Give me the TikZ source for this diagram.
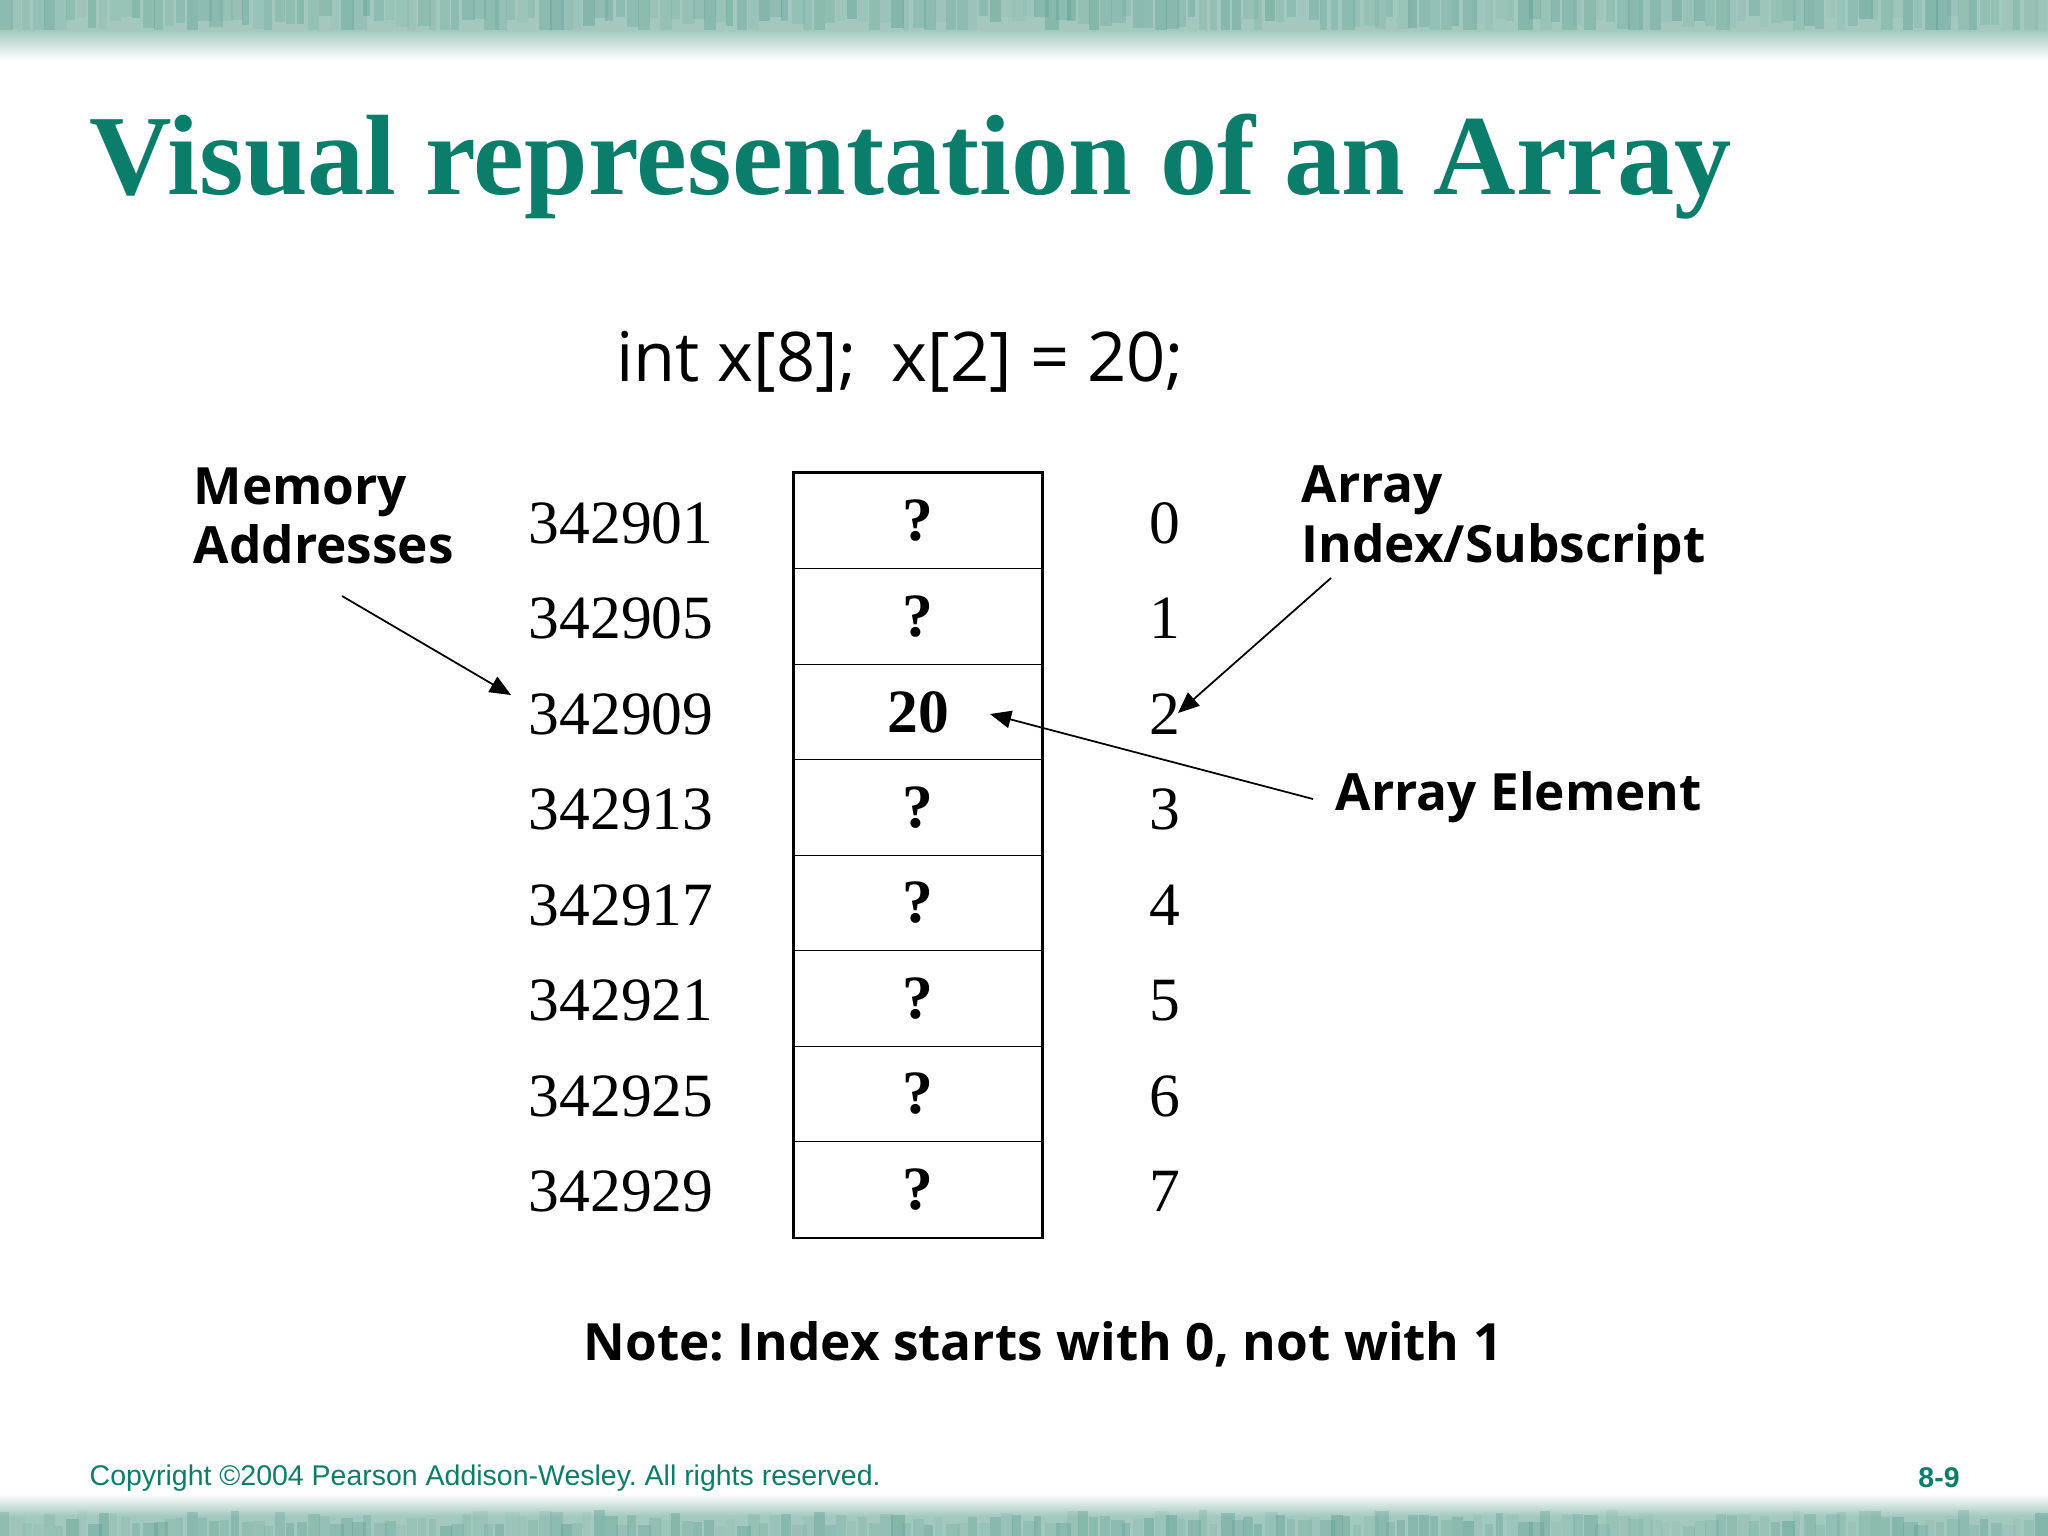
\documentclass[tikz,border=0pt]{standalone}
\usepackage{fontspec}
\setmainfont{Liberation Serif}
\newfontfamily\labelfont{Open Sans}
\newfontfamily\footfont{Liberation Sans}
\usepackage{tikz}
\usetikzlibrary{arrows.meta, positioning, calc}
\definecolor{slideteal}{HTML}{0B7D6B}
\definecolor{bandlight}{HTML}{A3C8BF}
\definecolor{banddark}{HTML}{4A9585}
\frenchspacing

\tikzset{
  cell/.style={draw, line width=0.4pt, minimum width=2.47cm, minimum height=0.955cm,
    inner sep=0pt, font=\fontsize{17.5}{17.5}\selectfont\bfseries},
  addrlabel/.style={anchor=west, inner sep=0pt, font=\fontsize{17.5}{17.5}\selectfont},
  idxlabel/.style={inner sep=0pt, font=\fontsize{17.5}{17.5}\selectfont},
  callout/.style={align=left, inner sep=0pt, font=\fontsize{14.6}{17}\selectfont\labelfont\bfseries},
  pointer/.style={-{Triangle[length=6pt, width=5pt]}, line width=0.5pt}
}

\begin{document}
\begin{tikzpicture}[x=0.01cm, y=-0.01cm]
  \useasboundingbox (0,0) rectangle (2048,1536);
  \pgfmathsetseed{11}

  % Top band
  \fill[bandlight] (0,0) rectangle (2048,30);
  \foreach \x in {0,11,...,2040} {
    \pgfmathsetmacro{\op}{0.05 + 0.3*rnd}
    \pgfmathsetmacro{\len}{16 + 22*rnd}
    \fill[banddark, opacity=\op] (\x,0) rectangle (\x+7+8*rnd, \len);
  }
  \shade[top color=bandlight, bottom color=white] (0,30) rectangle (2048,60);

  % Bottom band
  \shade[top color=white, bottom color=bandlight] (0,1494) rectangle (2048,1516);
  \fill[bandlight] (0,1516) rectangle (2048,1536);
  \foreach \x in {0,11,...,2040} {
    \pgfmathsetmacro{\op}{0.05 + 0.3*rnd}
    \pgfmathsetmacro{\len}{10 + 16*rnd}
    \fill[banddark, opacity=\op] (\x,1536) rectangle (\x+7+8*rnd, 1536-\len);
  }

  % Title
  \node[anchor=base west, inner sep=0pt, slideteal,
        font=\fontsize{32.5}{32.5}\selectfont\bfseries] (title) at (89,194)
        {Visual representation of an Array};

  % Declaration
  \node[inner sep=0pt, font=\fontsize{19.5}{19.5}\selectfont\labelfont] (decl) at (900,362)
        {int x[8];\ \ x[2] = 20;};

  % Array cells, addresses and indices
  \foreach \i/\addr/\val in {0/342901/?, 1/342905/?, 2/342909/20, 3/342913/?,
                             4/342917/?, 5/342921/?, 6/342925/?, 7/342929/?} {
    \node[cell] (cell\i) at (918, 521+95.5*\i) {\val};
    \node[addrlabel] (addr\i) at (528, 523+95.5*\i) {\addr};
    \node[idxlabel] (idx\i) at (1165, 523+95.5*\i) {\i};
  }
  \draw[line width=0.8pt] (cell0.north west) rectangle (cell7.south east);

  % Callouts
  \node[callout, anchor=west] (memlabel) at (193,516) {Memory\\Addresses};
  \node[callout, anchor=west] (idxlabel) at (1301,520) {Array\\Index/Subscript};
  \node[callout, anchor=west] (elemlabel) at (1335,797) {Array Element};

  \coordinate (memtail) at (342,596);
  \coordinate (memtip) at (511,695);
  \coordinate (idxtail) at (1331,578);
  \coordinate (idxtip) at (1178,713);
  \coordinate (elemtip) at (990,714);

  \draw[pointer] (memtail) -- (memtip);
  \draw[pointer] (idxtail) -- (idxtip);
  \draw[pointer] (elemlabel.west) ++(-22,2) -- (elemtip);

  % Note
  \node[inner sep=0pt, font=\fontsize{14.6}{14.6}\selectfont\labelfont\bfseries] (note) at (1043,1344)
        {Note: Index starts with 0, not with 1};

  % Footer
  \node[anchor=west, inner sep=0pt, slideteal, font=\fontsize{8.1}{8.1}\selectfont\footfont] (copy) at (89,1478)
        {Copyright ©2004 Pearson Addison-Wesley. All rights reserved.};
  \node[inner sep=0pt, slideteal, font=\fontsize{8.1}{8.1}\selectfont\footfont\bfseries] (page) at (1939,1478)
        {8-9};
\end{tikzpicture}
\end{document}
